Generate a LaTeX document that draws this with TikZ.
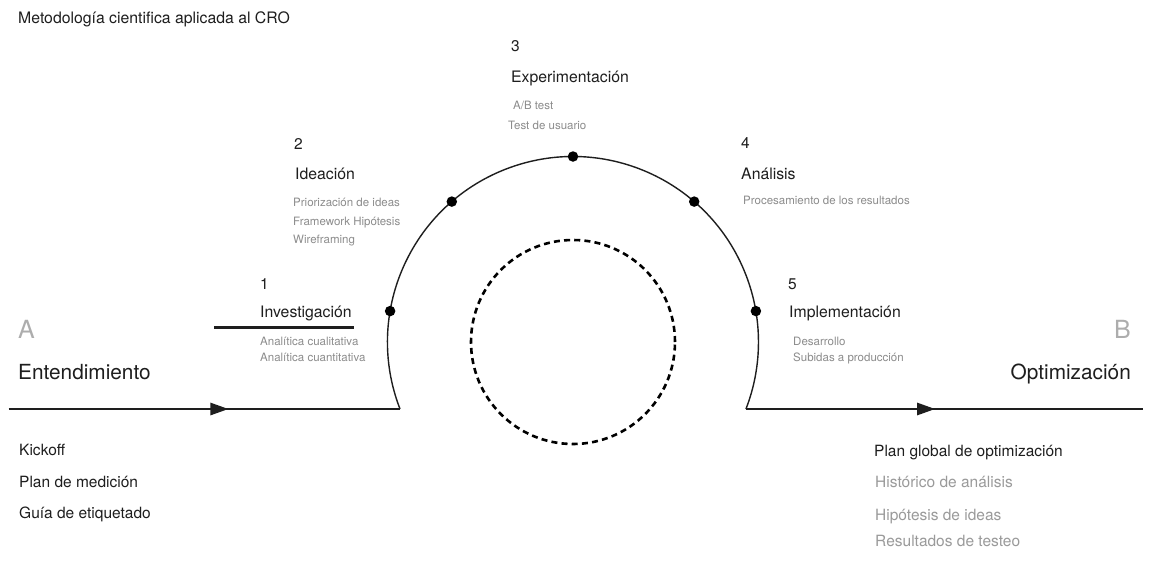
\documentclass[tikz,border=0pt]{standalone}
\usepackage{fontspec}
\setmainfont{TeX Gyre Heros}
\usetikzlibrary{arrows.meta,decorations.markings}
\definecolor{ink}{HTML}{1E1E1E}
\definecolor{soft}{HTML}{8C8C8C}
\definecolor{softer}{HTML}{9A9A9A}
\definecolor{letter}{HTML}{ADADAD}
\tikzset{
  txt/.style={anchor=base west, inner sep=0pt, text=ink},
  title/.style={txt, font=\fontsize{15.8}{18}\selectfont},
  stepnum/.style={txt, font=\fontsize{15.5}{18}\selectfont},
  stephead/.style={txt, font=\fontsize{15.8}{18}\selectfont},
  stepsub/.style={txt, text=soft, font=\fontsize{11.5}{13}\selectfont},
  bigletter/.style={txt, text=letter, font=\fontsize{25}{28}\selectfont},
  bigword/.style={txt, font=\fontsize{20.8}{24}\selectfont},
  listitem/.style={txt, font=\fontsize{15.5}{18}\selectfont},
  listsoft/.style={listitem, text=softer},
  flow/.style={line width=1.4pt, draw=ink},
  dot/.style={circle, fill=black, inner sep=0pt, minimum size=10.5pt},
}
\begin{document}
\begin{tikzpicture}[x=1pt,y=1pt]
\useasboundingbox (0,0) rectangle (1158,-584);
\fill[white] (0,0) rectangle (1158,-584);

% title
\node[title] (title) at (18,-23) {Metodología cientifica aplicada al CRO};

% main flow
\coordinate (L0) at (8.7,-409);
\coordinate (L1) at (400,-409);
\coordinate (C) at (573,-342);
\coordinate (R1) at (746,-409);
\coordinate (R2) at (1142.5,-409);

\draw[flow, postaction={decorate}, decoration={markings, mark=at position 219.6pt with {\arrow{Triangle[length=18pt,width=12.5pt]}}}] (L0) -- (L1);
\draw[flow] (L1) arc[start angle=201.17, end angle=-21.17, radius=185.5];
\draw[flow, postaction={decorate}, decoration={markings, mark=at position 189pt with {\arrow{Triangle[length=18pt,width=12.5pt]}}}] (R1) -- (R2);

% dashed inner circle
\draw[line width=2.6pt, dash pattern=on 6pt off 4.2pt] (C) circle[radius=102];

% dots on arc
\path (C) ++(170.4:185.5) node[dot] (d1) {};
\path (C) ++(130.8:185.5) node[dot] (d2) {};
\path (C) ++(90:185.5) node[dot] (d3) {};
\path (C) ++(49.2:185.5) node[dot] (d4) {};
\path (C) ++(9.6:185.5) node[dot] (d5) {};

% step 1
\node[stepnum] (n1) at (260,-289) {1};
\node[stephead] (h1) at (260,-317.5) {Investigación};
\coordinate (u1a) at (214,-327.5);
\coordinate (u1b) at (354,-327.5);
\draw[line width=3.2pt, draw=ink] (u1a) -- (u1b);
\node[stepsub] (s1a) at (260,-345) {Analítica cualitativa};
\node[stepsub] (s1b) at (260,-361) {Analítica cuantitativa};

% step 2
\node[stepnum] (n2) at (294,-149.5) {2};
\node[stephead] (h2) at (295,-179) {Ideación};
\node[stepsub] (s2a) at (293,-206) {Priorización de ideas};
\node[stepsub] (s2b) at (293,-225) {Framework Hipótesis};
\node[stepsub] (s2c) at (293,-243.5) {Wireframing};

% step 3
\node[stepnum] (n3) at (511,-51.5) {3};
\node[stephead] (h3) at (511,-82) {Experimentación};
\node[stepsub] (s3a) at (513,-109) {A/B test};
\node[stepsub] (s3b) at (508,-129) {Test de usuario};

% step 4
\node[stepnum] (n4) at (741,-148.5) {4};
\node[stephead] (h4) at (741,-179) {Análisis};
\node[stepsub] (s4a) at (743,-204.5) {Procesamiento de los resultados};

% step 5
\node[stepnum] (n5) at (788,-289) {5};
\node[stephead] (h5) at (789,-317.5) {Implementación};
\node[stepsub] (s5a) at (793,-345) {Desarrollo};
\node[stepsub] (s5b) at (793,-361) {Subidas a producción};

% A / B
\node[bigletter] (A) at (18,-338.3) {A};
\node[bigword] (Aw) at (18,-379) {Entendimiento};
\node[bigletter, anchor=base east] (B) at (1131,-338.3) {B};
\node[bigword, anchor=base east] (Bw) at (1131,-379) {Optimización};

% left list
\node[listitem] (k1) at (19,-455) {Kickoff};
\node[listitem] (k2) at (19,-487.3) {Plan de medición};
\node[listitem] (k3) at (19,-518.3) {Guía de etiquetado};

% right list
\node[listitem] (o1) at (874,-456) {Plan global de optimización};
\node[listsoft] (o2) at (875,-487.3) {Histórico de análisis};
\node[listsoft] (o3) at (875,-520.5) {Hipótesis de ideas};
\node[listsoft] (o4) at (875,-546.7) {Resultados de testeo};
\end{tikzpicture}
\end{document}
